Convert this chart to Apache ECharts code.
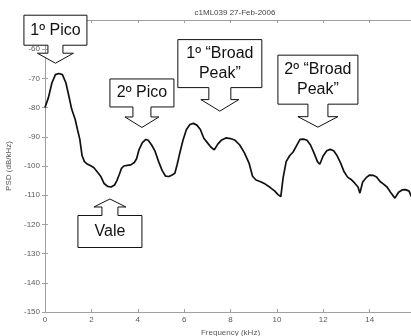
<!DOCTYPE html>
<html>
<head>
<meta charset="utf-8">
<script src="https://cdn.jsdelivr.net/npm/echarts@6/dist/echarts.min.js"></script>
<style>
  html, body { margin: 0; padding: 0; background: #fff; }
  #chart { width: 411px; height: 336px; }
</style>
</head>
<body>
<div id="chart"></div>
<script>
// Power spectral density of recording c1ML039 (27-Feb-2006)
const frequencyKHz = [
  0, 0.15, 0.3, 0.45, 0.6, 0.75, 0.9, 1.0, 1.15, 1.3, 1.4, 1.5, 1.6, 1.7, 1.8, 1.95,
  2.1, 2.25, 2.4, 2.55, 2.7, 2.85, 3.0, 3.1, 3.2, 3.3, 3.4, 3.55, 3.7, 3.85, 3.95,
  4.05, 4.2, 4.35, 4.45, 4.6, 4.75, 4.9, 5.05, 5.2, 5.35, 5.5, 5.6, 5.7, 5.8, 5.95,
  6.1, 6.25, 6.4, 6.55, 6.7, 6.85, 7.0, 7.15, 7.3, 7.45, 7.6, 7.8, 8.0, 8.2, 8.4,
  8.6, 8.8, 8.95, 9.1, 9.3, 9.5, 9.7, 9.9, 10.05, 10.17, 10.27, 10.4, 10.55, 10.7,
  10.85, 11.0, 11.15, 11.3, 11.45, 11.6, 11.75, 11.85, 12.0, 12.15, 12.3, 12.45,
  12.6, 12.75, 12.9, 13.05, 13.2, 13.35, 13.5, 13.58, 13.7, 13.85, 14.0, 14.15,
  14.3, 14.45, 14.6, 14.75, 14.9, 15.09, 15.25, 15.4, 15.55, 15.7, 15.8
];
const psdDb = [
  -80, -76.5, -71.5, -68.7, -68.3, -68.7, -71.5, -75, -80.5, -84, -87.5, -90.8, -96.5, -98.5, -99.2, -99.8,
  -100.5, -102, -103.5, -106, -107, -107.2, -106.5, -105, -103, -100.8, -100, -99.8, -99.6, -98.8, -97.5,
  -94.5, -92, -90.9, -91.2, -92.8, -95, -98.5, -101.5, -103.5, -103.6, -103, -102.5, -99.5, -96, -91.2,
  -87.5, -85.8, -85.4, -86, -87.5, -90.5, -92, -93.5, -94.5, -92.5, -91.2, -90.4, -90.6, -91.2, -92.8,
  -95.5, -99, -103.5, -104.8, -105.4, -106.2, -107.3, -108.5, -109.8, -110.5, -104, -98.5, -96.5, -95.2,
  -93, -90.9, -90.8, -91.2, -92.8, -95.5, -98.5, -99.4, -96.5, -94.8, -94.3, -94.8,
  -96.5, -99, -102, -103.8, -104.6, -105.8, -107.2, -109.3, -105.5, -104, -103.1, -103.2,
  -103.8, -105.3, -106.2, -107.2, -109, -111, -109, -108.2, -108.1, -108.6, -110.5
];

// Callout labels and the spectral features they point to (kHz, dB/kHz)
const calloutText  = ['1º Pico', '2º Pico', '1º “Broad\nPeak”', '2º “Broad\nPeak”', 'Vale'];
const calloutFreq  = [0.45, 4.18, 7.54, 11.77, 2.8];
const calloutLevel = [-64.8, -86.8, -81.2, -86.7, -111.3];

const titleText = 'c1ML039 27-Feb-2006';
const xName = 'Frequency (kHz)';
const yName = 'PSD (dB/kHz)';

const chart = echarts.init(document.getElementById('chart'), null, { renderer: 'canvas' });

const axisGray = '#a0a0a0';
const labelGray = '#5a5a5a';
const fontFamily = 'Liberation Sans, Arial, sans-serif';

const baseXAxis = {
  type: 'value', min: 0, max: 16, interval: 2,
  axisLine: { show: true, lineStyle: { color: axisGray, width: 1 } },
  axisTick: { show: true, inside: true, length: 3, lineStyle: { color: axisGray } },
  splitLine: { show: false }
};
const baseYAxis = {
  type: 'value', min: -150, max: -50, interval: 10,
  axisLine: { show: true, lineStyle: { color: axisGray, width: 1 } },
  axisTick: { show: true, inside: true, length: 3, lineStyle: { color: axisGray } },
  splitLine: { show: false }
};

chart.setOption({
  animation: false,
  backgroundColor: '#fff',
  title: {
    text: titleText, left: 230, top: 4, textAlign: 'center',
    textStyle: { fontSize: 8, fontWeight: 'normal', color: '#444', fontFamily }
  },
  grid: { left: 45, right: -5, top: 20, bottom: 24, containLabel: false, outerBoundsMode: 'none' },
  xAxis: [
    Object.assign({}, baseXAxis, {
      position: 'bottom',
      name: xName, nameLocation: 'middle', nameGap: 13,
      nameTextStyle: { fontSize: 8, color: labelGray, fontFamily },
      axisLabel: { fontSize: 8, color: labelGray, margin: 4, fontFamily }
    }),
    Object.assign({}, baseXAxis, { position: 'top', axisLabel: { show: false } })
  ],
  yAxis: [
    Object.assign({}, baseYAxis, {
      position: 'left',
      name: yName, nameLocation: 'middle', nameGap: 26,
      nameTextStyle: { fontSize: 8, color: labelGray, fontFamily },
      axisLabel: { fontSize: 8, color: labelGray, margin: 5, fontFamily }
    }),
    Object.assign({}, baseYAxis, { position: 'right', axisLabel: { show: false } })
  ],
  series: [{
    type: 'line',
    data: frequencyKHz.map((f, i) => [f, psdDb[i]]),
    showSymbol: false,
    smooth: false,
    lineStyle: { color: '#111', width: 1.7 },
    z: 3
  }]
});

// Box-with-arrow callout shapes, anchored on the arrow tip
const shapes = [
  { dir: 'down', boxW: 63, boxH: 30, stemW: 15, stemH: 8,  headW: 36, headH: 10 },
  { dir: 'down', boxW: 64, boxH: 28, stemW: 18, stemH: 10, headW: 34, headH: 10.5 },
  { dir: 'down', boxW: 84, boxH: 48, stemW: 22, stemH: 12, headW: 38, headH: 11.5 },
  { dir: 'down', boxW: 80, boxH: 49, stemW: 20, stemH: 12.5, headW: 40, headH: 10.5 },
  { dir: 'up',   boxW: 64, boxH: 32, stemW: 16, stemH: 8.5, headW: 32, headH: 8 }
];

function calloutPoints(tx, ty, s) {
  const sg = s.dir === 'down' ? -1 : 1;   // direction from tip toward box
  const hb = ty + sg * s.headH;
  const sb = hb + sg * s.stemH;
  const bb = sb + sg * s.boxH;
  const bw = s.boxW / 2, sw = s.stemW / 2, hw = s.headW / 2;
  return [
    [tx, ty], [tx + hw, hb], [tx + sw, hb], [tx + sw, sb], [tx + bw, sb],
    [tx + bw, bb], [tx - bw, bb], [tx - bw, sb], [tx - sw, sb], [tx - sw, hb], [tx - hw, hb]
  ];
}

const graphics = [];
calloutText.forEach((txt, i) => {
  const [tx, ty] = chart.convertToPixel({ gridIndex: 0 }, [calloutFreq[i], calloutLevel[i]]);
  const s = shapes[i];
  const sg = s.dir === 'down' ? -1 : 1;
  const boxNear = ty + sg * (s.headH + s.stemH);
  const boxCenterY = boxNear + sg * s.boxH / 2;
  graphics.push({
    type: 'polygon', z: 10,
    shape: { points: calloutPoints(tx, ty, s) },
    style: { fill: '#fff', stroke: '#111', lineWidth: 1 }
  });
  graphics.push({
    type: 'text', z: 11,
    x: tx, y: boxCenterY,
    style: {
      text: txt, fill: '#111', fontSize: 16, fontFamily,
      align: 'center', verticalAlign: 'middle', lineHeight: 20
    }
  });
});
chart.setOption({ graphic: graphics });
</script>
</body>
</html>
